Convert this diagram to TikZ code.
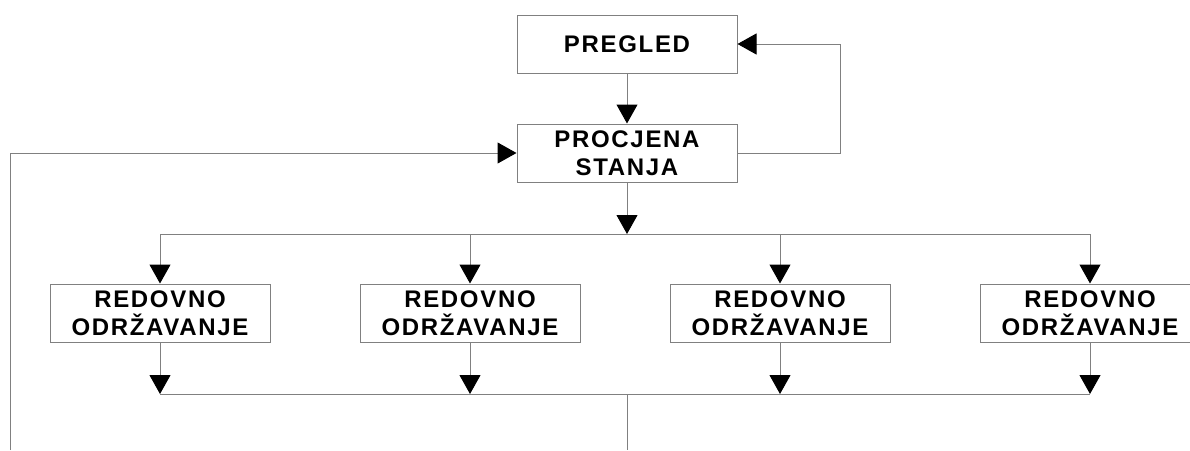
\documentclass[tikz,border=0pt]{standalone}
\usepackage{fontspec}
\setmainfont{Liberation Sans}[LetterSpace=7]
\usetikzlibrary{arrows.meta}
\definecolor{linegray}{RGB}{128,128,128}
\tikzset{
  box/.style={draw=linegray, line width=1pt, minimum width=220pt, minimum height=58pt, inner sep=0pt,
    align=center, font=\fontsize{24}{28}\selectfont\bfseries, fill=white},
  conn/.style={draw=linegray, line width=1pt},
  arr/.style={conn, -{Triangle[length=19pt,width=21pt,color=black]}},
}
\begin{document}
\begin{tikzpicture}[x=1pt,y=-1pt]
\useasboundingbox (0,0) rectangle (1190,450);
\node[box] (pregled) at (627,44) {PREGLED};
\node[box] (procjena) at (627,153) {PROCJENA\\STANJA};
\node[box] (r1) at (160,313) {REDOVNO\\ODRŽAVANJE};
\node[box] (r2) at (470,313) {REDOVNO\\ODRŽAVANJE};
\node[box] (r3) at (780,313) {REDOVNO\\ODRŽAVANJE};
\node[box] (r4) at (1090,313) {REDOVNO\\ODRŽAVANJE};
\coordinate (bus1) at (627,234);
\coordinate (bus2) at (627,394);
\coordinate (bottom) at (627,450);
\coordinate (leftbottom) at (10,450);
\coordinate (loopx) at (840,0);
\draw[arr] (pregled) -- (procjena);
\draw[arr] (procjena.east) -| (loopx |- pregled.east) -- (pregled.east);
\draw[arr] (procjena.south) -- (bus1);
\draw[conn] (r1.north |- bus1) -- (r4.north |- bus1);
\foreach \r in {r1,r2,r3,r4} {
  \draw[arr] (\r.north |- bus1) -- (\r.north);
  \draw[arr] (\r.south) -- (\r.south |- bus2);
}
\draw[conn] (r1.south |- bus2) -- (r4.south |- bus2);
\draw[conn] (bus2) -- (bottom);
\draw[arr] (leftbottom) -- (leftbottom |- procjena.west) -- (procjena.west);
\end{tikzpicture}
\end{document}
